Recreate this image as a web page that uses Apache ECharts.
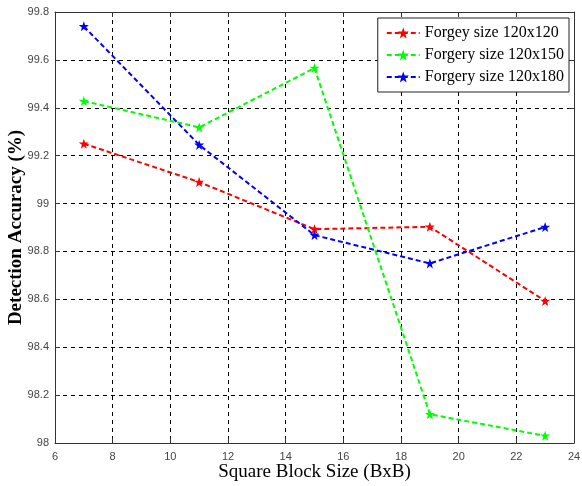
<!DOCTYPE html>
<html><head><meta charset="utf-8">
<script src="https://cdn.jsdelivr.net/npm/echarts@6/dist/echarts.min.js"></script>
<style>html,body{margin:0;padding:0;background:#fff}#c{width:582px;height:486px}</style>
</head><body><div id="c"></div>
<script>
const blockSizes = [7, 11, 15, 19, 23];
const red120 = [99.25, 99.09, 98.893, 98.903, 98.593];
const green150 = [99.428, 99.318, 99.566, 98.12, 98.03];
const blue180 = [99.74, 99.245, 98.868, 98.75, 98.902];
const seriesNames = ['Forgey size 120x120', 'Forgery size 120x150', 'Forgery size 120x180'];
const colors = ['#ff0000', '#00ff00', '#0000ff'];
const starPath = 'path://M0,-10 L2.5,-3 L10,-3 L4,1.5 L6,9 L0,4.5 L-6,9 L-4,1.5 L-10,-3 L-2.5,-3 Z';

const chart = echarts.init(document.getElementById('c'));
const toPairs = a => blockSizes.map((x, i) => [x, a[i]]);
const mk = (name, data, color) => ({
  name, type: 'line', data: toPairs(data),
  symbol: starPath, symbolSize: 10, showSymbol: true,
  lineStyle: { color, width: 2, type: [5, 3] },
  itemStyle: { color },
  animation: false
});
const tickFont = { color: '#444', fontFamily: 'Liberation Sans', fontSize: 11 };
chart.setOption({
  animation: false,
  grid: { left: 55, top: 12, right: 8, bottom: 43, outerBoundsMode: 'none', containLabel: false },
  legend: {
    right: 13, top: 18, orient: 'vertical', itemGap: 6,
    itemWidth: 33, itemHeight: 14,
    backgroundColor: '#fff', borderColor: '#222', borderWidth: 1,
    padding: [7, 5, 7, 8],
    textStyle: { fontFamily: 'Liberation Serif', fontSize: 16, color: '#000' },
    data: seriesNames
  },
  xAxis: [{
    type: 'value', min: 6, max: 24, interval: 2,
    name: 'Square Block Size (BxB)', nameLocation: 'middle', nameGap: 20, nameMoveOverlap: false,
    nameTextStyle: { fontFamily: 'Liberation Serif', fontSize: 19, color: '#000' },
    axisLine: { onZero: false, lineStyle: { color: '#333' } },
    axisTick: { inside: true, length: 5, lineStyle: { color: '#333' } },
    axisLabel: Object.assign({ margin: 8 }, tickFont),
    splitLine: { show: true, lineStyle: { color: '#000', type: [4, 4] } }
  }, {
    type: 'value', min: 6, max: 24, interval: 2, position: 'top',
    axisLine: { show: true, onZero: false, lineStyle: { color: '#333' } },
    axisTick: { show: true, inside: true, length: 5, lineStyle: { color: '#333' } },
    axisLabel: { show: false }, splitLine: { show: false }
  }],
  yAxis: [{
    type: 'value', min: 98, max: 99.8, interval: 0.2,
    name: 'Detection Accuracy (%)', nameLocation: 'middle', nameGap: 29, nameMoveOverlap: false,
    nameTextStyle: { fontFamily: 'Liberation Serif', fontSize: 19, fontWeight: 'bold', color: '#000' },
    axisLine: { show: true, onZero: false, lineStyle: { color: '#333' } },
    axisTick: { show: true, inside: true, length: 5, lineStyle: { color: '#333' } },
    axisLabel: Object.assign({ margin: 6, formatter: v => String(Math.round(v * 10) / 10) }, tickFont),
    splitLine: { show: true, lineStyle: { color: '#000', type: [4, 4] } }
  }, {
    type: 'value', min: 98, max: 99.8, interval: 0.2, position: 'right',
    axisLine: { show: true, onZero: false, lineStyle: { color: '#333' } },
    axisTick: { show: true, inside: true, length: 5, lineStyle: { color: '#333' } },
    axisLabel: { show: false }, splitLine: { show: false }
  }],
  series: [
    mk(seriesNames[0], red120, colors[0]),
    mk(seriesNames[1], green150, colors[1]),
    mk(seriesNames[2], blue180, colors[2])
  ]
});
</script></body></html>
